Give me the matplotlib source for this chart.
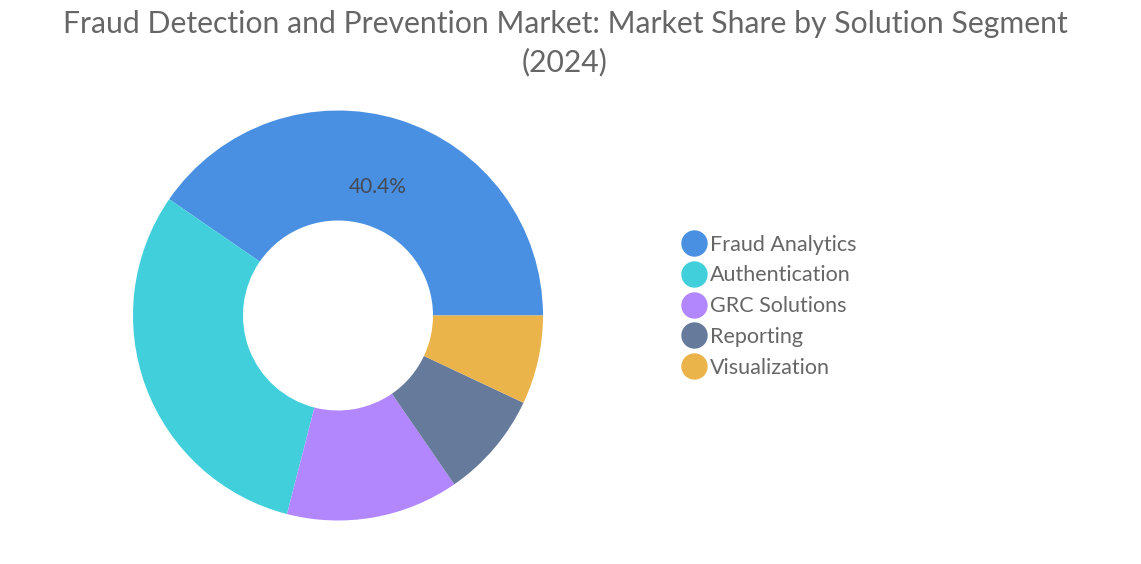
import matplotlib
matplotlib.use("Agg")
import matplotlib.pyplot as plt
from matplotlib.lines import Line2D

categories = ["Fraud Analytics", "Authentication", "GRC Solutions", "Reporting", "Visualization"]
shares = [40.4, 30.6, 13.6, 8.4, 7.0]
colors = ["#4a90e2", "#41d0db", "#b287fd", "#667a9c", "#ebb44b"]
title = "Fraud Detection and Prevention Market: Market Share by Solution Segment\n(2024)"

plt.rcParams['font.family'] = ['Lato', 'DejaVu Sans']

W, H = 1141, 564
fig = plt.figure(figsize=(W / 100, H / 100), dpi=100)
fig.patch.set_facecolor("white")

cx, cy, R = 338, 315.5, 205
ax = fig.add_axes([(cx - R) / W, (H - cy - R) / H, 2 * R / W, 2 * R / H])

def fmt(p):
    return f"{p:.1f}%" if p > 35 else ""

wedges, texts, autotexts = ax.pie(
    shares, colors=colors, startangle=0, counterclock=True, radius=1,
    wedgeprops=dict(width=1 - 95 / 205, edgecolor="none"),
    autopct=fmt, pctdistance=0.655,
    textprops=dict(color="#444a55", fontsize=15),
)
ax.set_xlim(-1, 1)
ax.set_ylim(-1, 1)
ax.axis("off")

fig.text(565 / W, 1 - 10 / H, title, ha="center", va="top", fontsize=21.7,
         color="#666666", linespacing=1.42)

handles = [Line2D([0], [0], marker="o", linestyle="none", markersize=18,
                  markerfacecolor=c, markeredgecolor=c) for c in colors]
leg = fig.legend(handles, categories, loc="upper left",
                 bbox_to_anchor=(669 / W, 1 - 226 / H), frameon=False,
                 fontsize=15.5, labelcolor="#666666", handletextpad=0.0,
                 labelspacing=0.5, handlelength=1.5, borderaxespad=0)

fig.savefig("out.png", dpi=100, facecolor="white")
